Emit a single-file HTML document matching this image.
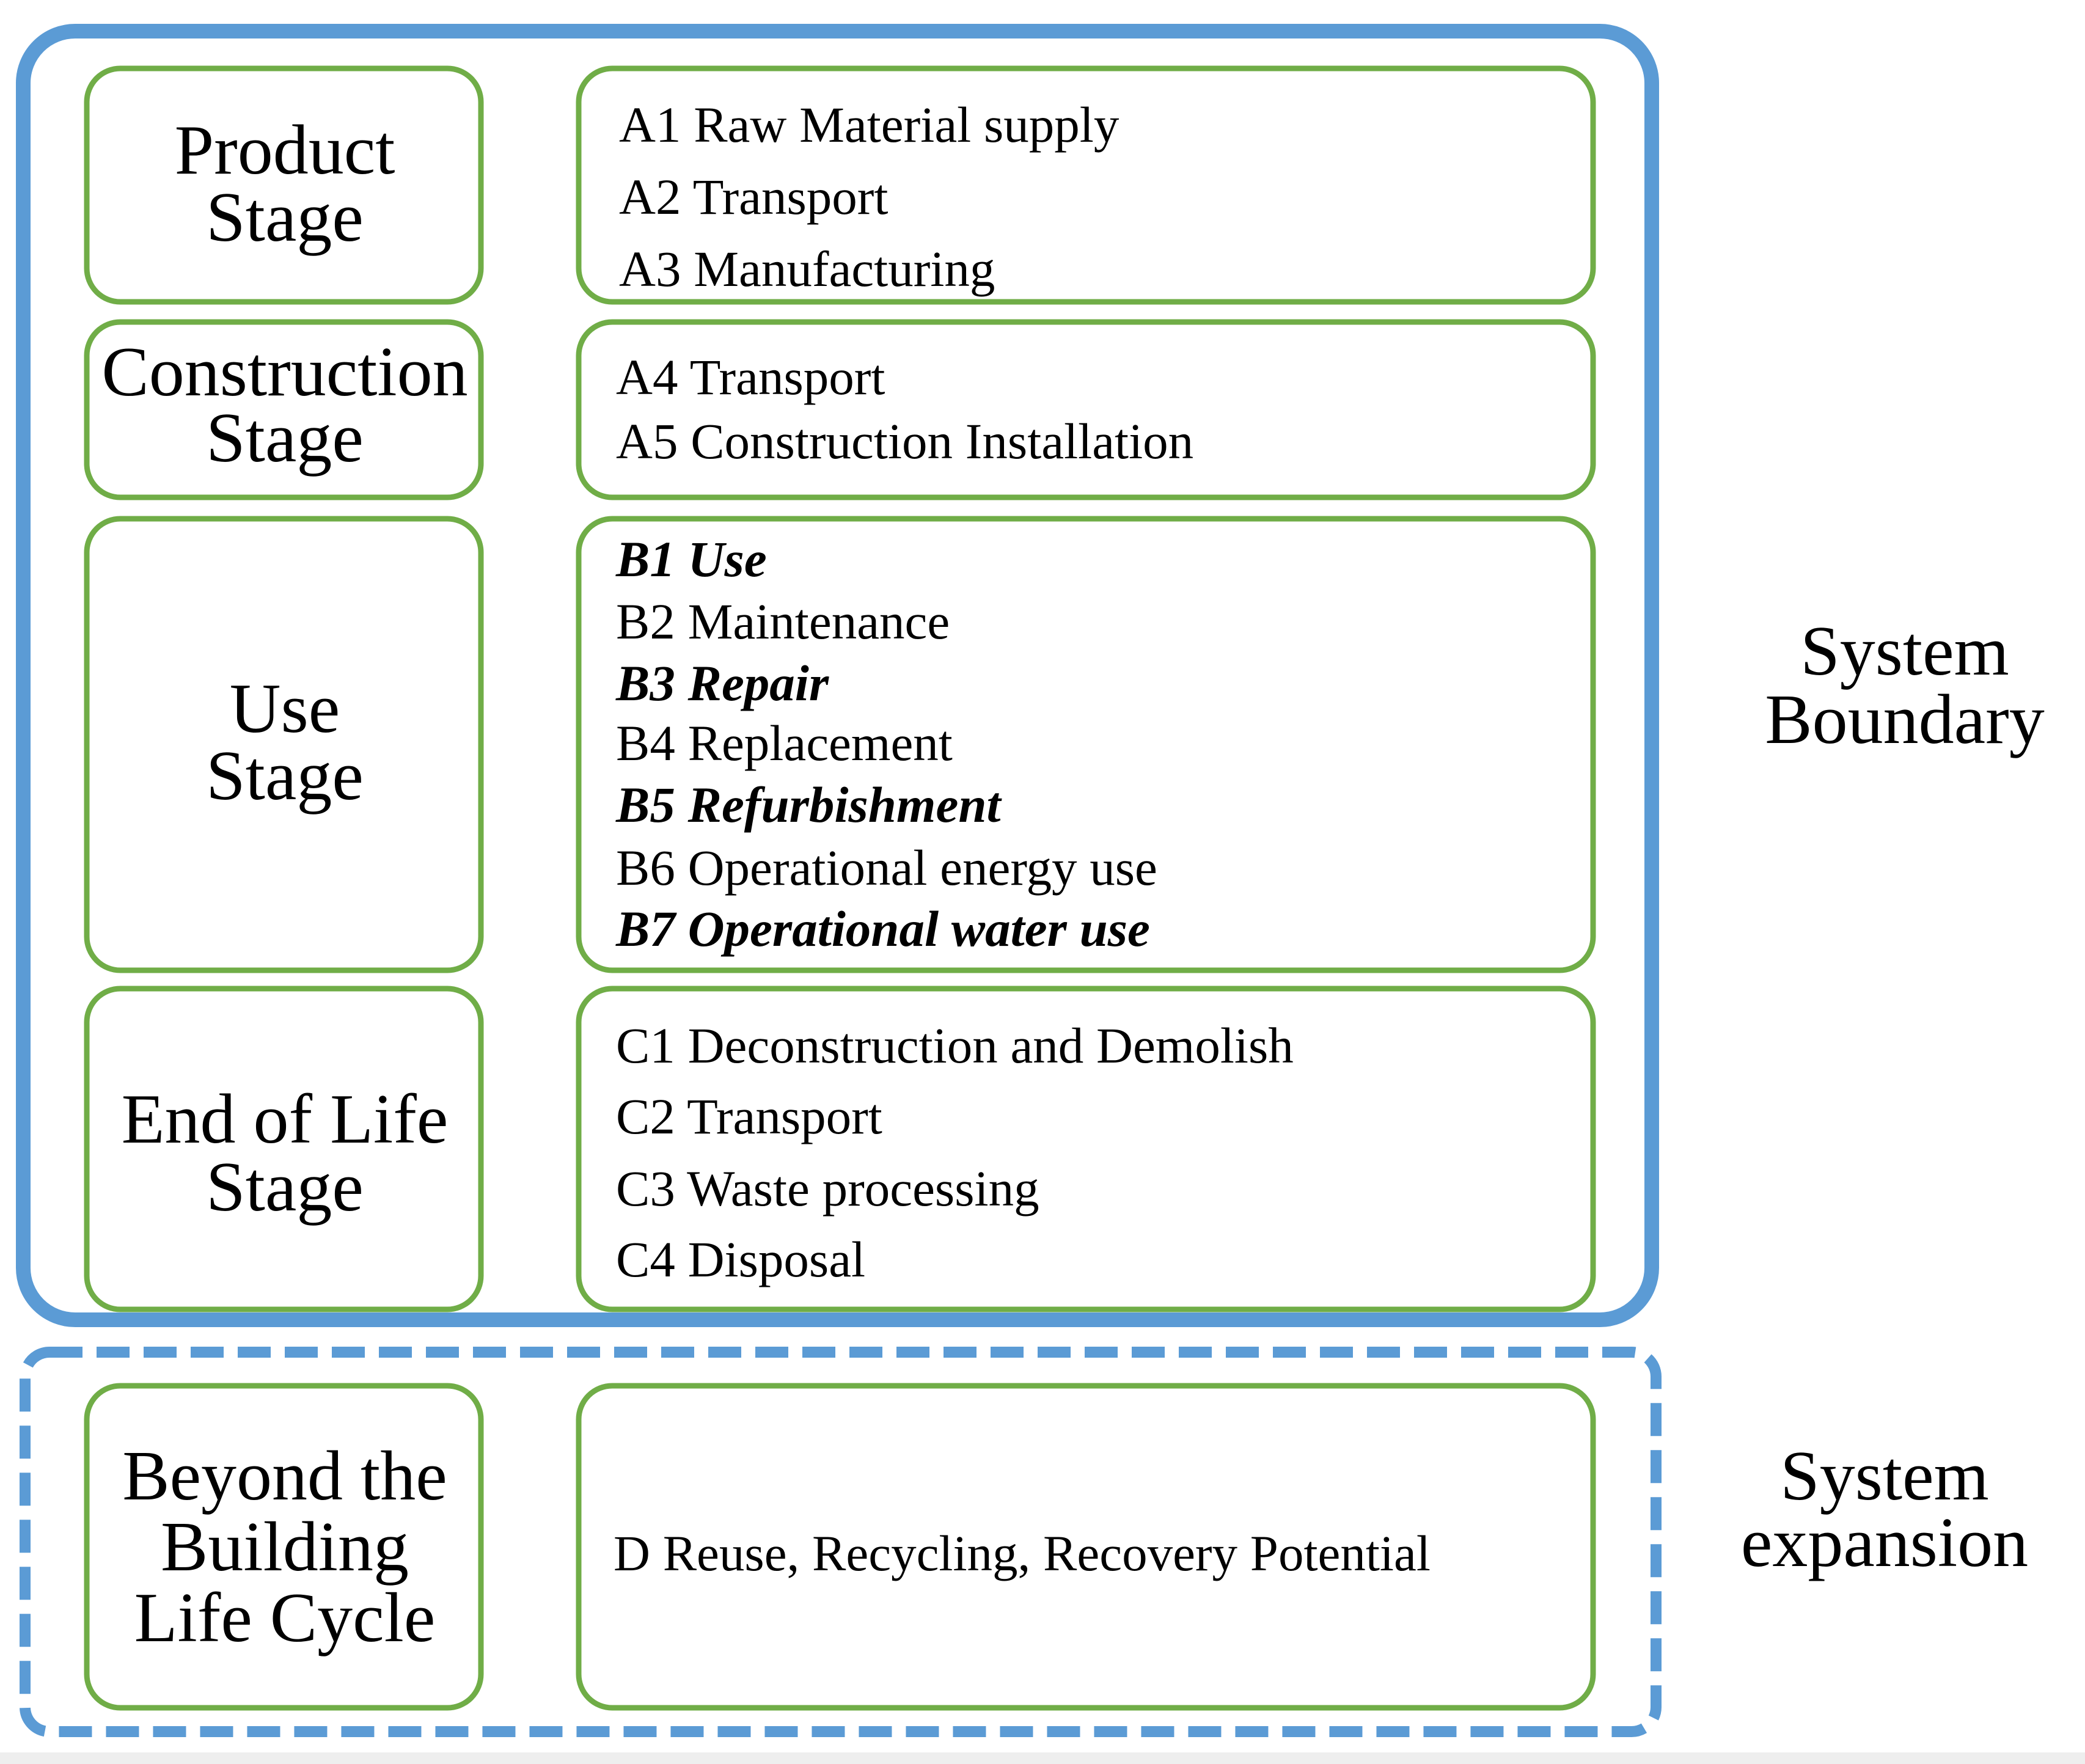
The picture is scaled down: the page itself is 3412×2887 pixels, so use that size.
<!DOCTYPE html>
<html><head><meta charset="utf-8"><style>
html,body{margin:0;padding:0;background:#fff;}
svg{display:block;}
text{font-family:"Liberation Serif",serif;fill:#000;}
.l{font-size:116px;text-anchor:middle;}
.r{font-size:83px;}
.bi{font-weight:bold;font-style:italic;}
</style></head><body>
<svg width="3412" height="2887" viewBox="0 0 3412 2887" xmlns="http://www.w3.org/2000/svg">
<rect x="0" y="0" width="3412" height="2887" fill="#fff"/>
<rect x="0" y="2868" width="3412" height="19" fill="#eeeeee"/>
<rect x="38" y="51" width="2665" height="2109" rx="85" fill="none" stroke="#5b9bd5" stroke-width="24"/>
<rect x="41" y="2213" width="2669" height="621" rx="40" fill="none" stroke="#5b9bd5" stroke-width="18" stroke-dasharray="54 23"/>
<g fill="none" stroke="#70ad47" stroke-width="9">
<rect x="142" y="112" width="645" height="382" rx="55"/>
<rect x="947" y="112" width="1660" height="382" rx="55"/>
<rect x="142" y="527" width="645" height="287" rx="55"/>
<rect x="947" y="527" width="1660" height="287" rx="55"/>
<rect x="142" y="849" width="645" height="739" rx="55"/>
<rect x="947" y="849" width="1660" height="739" rx="55"/>
<rect x="142" y="1618" width="645" height="525" rx="55"/>
<rect x="947" y="1618" width="1660" height="525" rx="55"/>
<rect x="142" y="2268" width="645" height="527" rx="55"/>
<rect x="947" y="2268" width="1660" height="527" rx="55"/>
</g>
<text class="l" x="466" y="284">Product</text>
<text class="l" x="466" y="394">Stage</text>
<text class="l" x="466" y="647">Construction</text>
<text class="l" x="466" y="755">Stage</text>
<text class="l" x="466" y="1198">Use</text>
<text class="l" x="466" y="1308">Stage</text>
<text class="l" x="466" y="1870">End of Life</text>
<text class="l" x="466" y="1981">Stage</text>
<text class="l" x="466" y="2454">Beyond the</text>
<text class="l" x="466" y="2570">Building</text>
<text class="l" x="466" y="2686">Life Cycle</text>

<text class="r" x="1013" y="232">A1 Raw Material supply</text>
<text class="r" x="1013" y="350">A2 Transport</text>
<text class="r" x="1013" y="468">A3 Manufacturing</text>
<text class="r" x="1008" y="645">A4 Transport</text>
<text class="r" x="1008" y="750">A5 Construction Installation</text>
<text class="r bi" x="1008" y="943">B1 Use</text>
<text class="r" x="1008" y="1045">B2 Maintenance</text>
<text class="r bi" x="1008" y="1146">B3 Repair</text>
<text class="r" x="1008" y="1244">B4 Replacement</text>
<text class="r bi" x="1008" y="1345">B5 Refurbishment</text>
<text class="r" x="1008" y="1448">B6 Operational energy use</text>
<text class="r bi" x="1008" y="1548">B7 Operational water use</text>
<text class="r" x="1008" y="1739">C1 Deconstruction and Demolish</text>
<text class="r" x="1008" y="1855">C2 Transport</text>
<text class="r" x="1008" y="1973">C3 Waste processing</text>
<text class="r" x="1008" y="2089">C4 Disposal</text>
<text class="r" x="1004" y="2570">D Reuse, Recycling, Recovery Potential</text>

<text class="l" x="3117" y="1104">System</text>
<text class="l" x="3117" y="1216">Boundary</text>
<text class="l" x="3084" y="2454">System</text>
<text class="l" x="3084" y="2563">expansion</text>
</svg>
</body></html>
